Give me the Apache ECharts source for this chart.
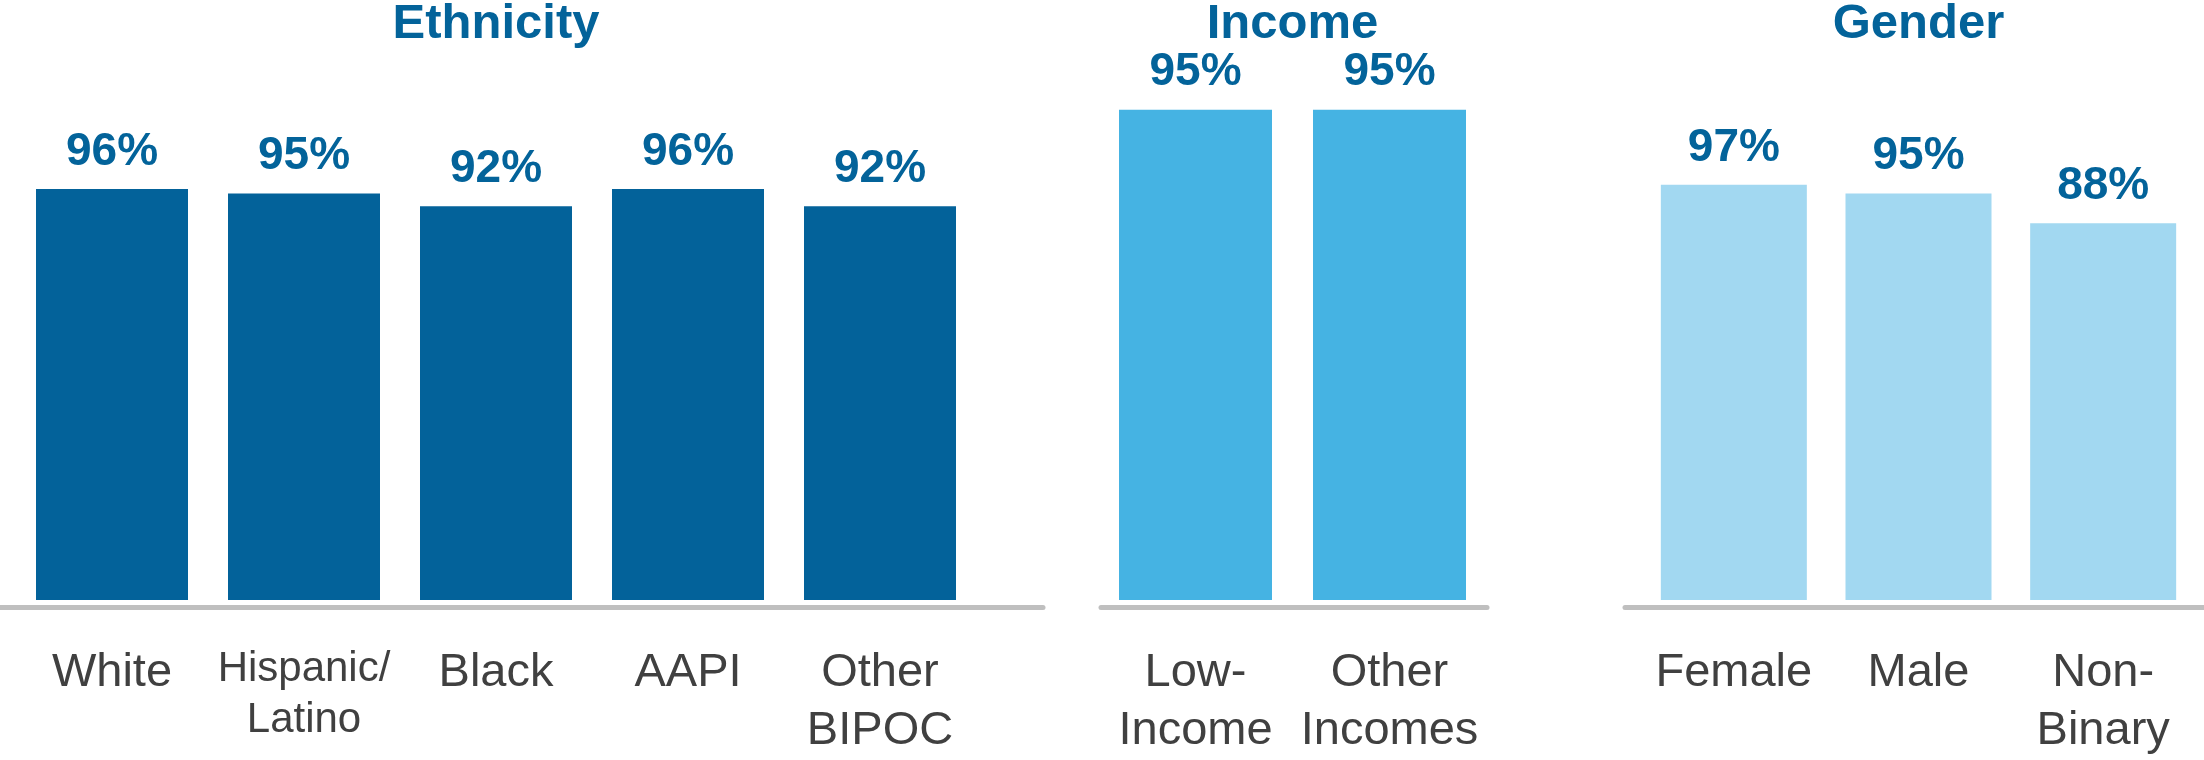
<!DOCTYPE html>
<html>
<head>
<meta charset="utf-8">
<script src="https://cdn.jsdelivr.net/npm/echarts@6/dist/echarts.min.js"></script>
<style>
html,body{margin:0;padding:0;background:#fff;}
#chart{width:2204px;height:760px;}
</style>
</head>
<body>
<div id="chart"></div>
<script>
const panelTitles = ['Ethnicity', 'Income', 'Gender'];
const ethnicityCats = ['White', 'Hispanic/\nLatino', 'Black', 'AAPI', 'Other\nBIPOC'];
const ethnicityVals = [96, 95, 92, 96, 92];
const incomeCats = ['Low-\nIncome', 'Other\nIncomes'];
const incomeVals = [95, 95];
const genderCats = ['Female', 'Male', 'Non-\nBinary'];
const genderVals = [97, 95, 88];

const FONT = '"Liberation Sans", Arial, sans-serif';
const DARK = '#03639A';
const colors = ['#03629A', '#45B3E3', '#A2D8F1'];
const AXIS_Y = 607.5;

// bar panels layout
const panels = [
  {cats: ethnicityCats, vals: ethnicityVals, left: 16, width: 960, top: 172, barWidth: 152, lineL: 0, lineR: 1043},
  {cats: incomeCats, vals: incomeVals, left: 1098.5, width: 388, top: 84, barWidth: 153, lineL: 1101, lineR: 1487},
  {cats: genderCats, vals: genderVals, left: 1641.5, width: 554, top: 172, barWidth: 146, lineL: 1625, lineR: 2204}
];

const grid = [], xAxis = [], yAxis = [], series = [], title = [];
panels.forEach((p, i) => {
  grid.push({left: p.left, width: p.width, top: p.top, height: 605 - p.top});
  xAxis.push({
    type: 'category', gridIndex: i,
    data: p.cats.map(c => c.indexOf('Hispanic') === 0 ? {value: c, textStyle: {fontSize: 42, lineHeight: 51}} : c),
    axisLine: {show: false}, axisTick: {show: false},
    axisLabel: {interval: 0, fontFamily: FONT, fontSize: 47, lineHeight: 58, color: '#404040', margin: 44, verticalAlign: 'top'}
  });
  yAxis.push({type: 'value', gridIndex: i, min: 0, max: 100, show: false, splitLine: {show: false}});
  series.push({
    type: 'bar', xAxisIndex: i, yAxisIndex: i, data: p.vals, barWidth: p.barWidth,
    itemStyle: {color: colors[i]},
    label: {show: true, position: 'top', distance: 14, formatter: '{c}%', fontFamily: FONT, fontSize: 46, lineHeight: 46, fontWeight: 'bold', color: DARK},
    silent: true
  });
  title.push({
    text: panelTitles[i], left: p.left + p.width / 2, top: 0, textAlign: 'center', padding: 0,
    textStyle: {fontFamily: FONT, fontSize: 49, lineHeight: 49, fontWeight: 'bold', color: DARK}
  });
});

// baseline axis lines (extended beyond category span)
panels.forEach((p, i) => {
  const gi = grid.length;
  grid.push({left: p.lineL, width: p.lineR - p.lineL, top: AXIS_Y - 10, height: 10});
  xAxis.push({
    type: 'value', gridIndex: gi, min: 0, max: 1,
    axisLine: {show: true, lineStyle: {color: '#BFBFBF', width: 5}},
    axisTick: {show: false}, axisLabel: {show: false}, splitLine: {show: false}
  });
  yAxis.push({type: 'value', gridIndex: gi, min: 0, max: 1, show: false, splitLine: {show: false}});
});

const chart = echarts.init(document.getElementById('chart'), null, {renderer: 'canvas'});
chart.setOption({animation: false, title, grid, xAxis, yAxis, series});
</script>
</body>
</html>
